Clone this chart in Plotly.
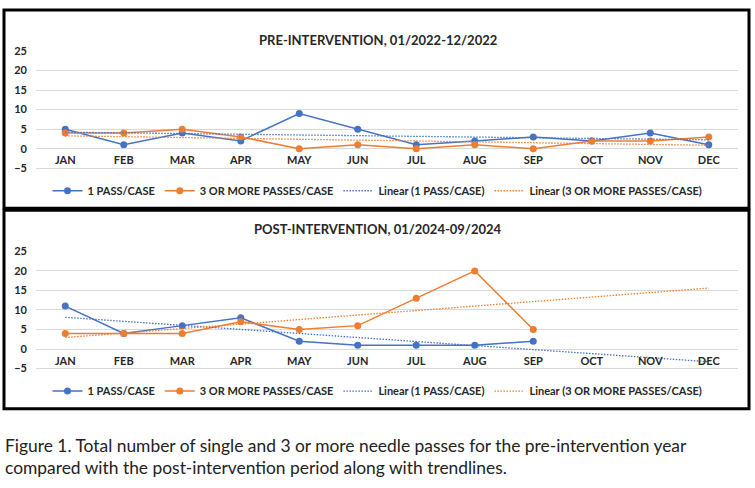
import numpy as np
import plotly.graph_objects as go

months = ["JAN", "FEB", "MAR", "APR", "MAY", "JUN", "JUL", "AUG", "SEP", "OCT", "NOV", "DEC"]
pre_one_pass = [5, 1, 4, 2, 9, 5, 1, 2, 3, 2, 4, 1]
pre_three_plus = [4, 4, 5, 3, 0, 1, 0, 1, 0, 2, 2, 3]
post_months = months[:9]
post_one_pass = [11, 4, 6, 8, 2, 1, 1, 1, 2]
post_three_plus = [4, 4, 4, 7, 5, 6, 13, 20, 5]
y_ticks = [-5, 0, 5, 10, 15, 20, 25]

title_pre = "PRE-INTERVENTION, 01/2022-12/2022"
title_post = "POST-INTERVENTION, 01/2024-09/2024"
caption_lines = ["Figure 1. Total number of single and 3 or more needle passes for the pre-intervention year",
                 "compared with the post-intervention period along with trendlines."]

BLUE = "#4472C4"
ORANGE = "#ED7D31"
FONT = "Lato"
TXT = "#262626"
W, H = 755, 488
YMIN, YMAX = -5.3, 25.2
PX_PER_UNIT = 4.0


def trend(vals, n_out):
    x = np.arange(1, len(vals) + 1)
    m, b = np.polyfit(x, vals, 1)
    xo = np.arange(1, n_out + 1)
    return list(m * xo + b)


fig = go.Figure()


def add_panel(xa, ya, leg, mlist, one, three):
    fig.add_trace(go.Scatter(x=mlist, y=one, mode="lines+markers", name="1 PASS/CASE",
                             line=dict(color=BLUE, width=1.5), marker=dict(size=7, color=BLUE),
                             xaxis=xa, yaxis=ya, legend=leg))
    fig.add_trace(go.Scatter(x=mlist, y=three, mode="lines+markers", name="3 OR MORE PASSES/CASE",
                             line=dict(color=ORANGE, width=1.5), marker=dict(size=7, color=ORANGE),
                             xaxis=xa, yaxis=ya, legend=leg))
    fig.add_trace(go.Scatter(x=months, y=trend(one, 12), mode="lines", name="Linear (1 PASS/CASE)",
                             line=dict(color=BLUE, width=1.3, dash="1.5px,1.5px"),
                             xaxis=xa, yaxis=ya, legend=leg))
    fig.add_trace(go.Scatter(x=months, y=trend(three, 12), mode="lines", name="Linear (3 OR MORE PASSES/CASE)",
                             line=dict(color=ORANGE, width=1.3, dash="1.5px,1.5px"),
                             xaxis=xa, yaxis=ya, legend=leg))


add_panel("x", "y", "legend", months, pre_one_pass, pre_three_plus)
add_panel("x2", "y2", "legend2", post_months, post_one_pass, post_three_plus)

tickfont = dict(family=FONT, size=11, color=TXT, weight="bold")
xcommon = dict(type="category", categoryorder="array", categoryarray=months,
               range=[-0.5, 11.5], showgrid=False, zeroline=False, showline=False,
               ticks="", ticklabelstandoff=-17, tickfont=tickfont, fixedrange=True)
ycommon = dict(range=[YMIN, YMAX], tickvals=y_ticks, showgrid=True, gridcolor="#D9D9D9",
               gridwidth=1, zeroline=False, showline=False, ticks="", tickfont=tickfont,
               ticklabelstandoff=8)


def ydomain(py_zero):
    top = py_zero - YMAX * PX_PER_UNIT
    bot = py_zero - YMIN * PX_PER_UNIT
    return [1 - bot / H, 1 - top / H]


x0, x1 = 36 / W, 738 / W
fig.update_layout(
    width=W, height=H, margin=dict(l=0, r=0, t=0, b=0),
    paper_bgcolor="white", plot_bgcolor="white",
    xaxis=dict(domain=[x0, x1], anchor="y", **xcommon),
    yaxis=dict(domain=ydomain(146), anchor="x", **ycommon),
    xaxis2=dict(domain=[x0, x1], anchor="y2", **xcommon),
    yaxis2=dict(domain=ydomain(351), anchor="x2", **ycommon),
    legend=dict(orientation="h", x=0.5, xanchor="center", y=1 - 189 / H, yanchor="middle",
                font=dict(family=FONT, size=11, color=TXT, weight="bold"),
                bgcolor="rgba(0,0,0,0)"),
    legend2=dict(orientation="h", x=0.5, xanchor="center", y=1 - 394 / H, yanchor="middle",
                 font=dict(family=FONT, size=11, color=TXT, weight="bold"),
                 bgcolor="rgba(0,0,0,0)"),
    showlegend=True,
)

fig.add_annotation(text=title_pre, xref="paper", yref="paper", x=0.5, y=1 - 25 / H,
                   showarrow=False, font=dict(family=FONT, size=13, color=TXT, weight="bold"))
fig.add_annotation(text=title_post, xref="paper", yref="paper", x=0.5, y=1 - 228 / H,
                   showarrow=False, font=dict(family=FONT, size=13, color=TXT, weight="bold"))
for line, py in zip(caption_lines, [450, 472]):
    fig.add_annotation(text=line, xref="paper", yref="paper", x=3 / W, y=1 - py / H,
                       xanchor="left", yanchor="middle", align="left", showarrow=False,
                       font=dict(family=FONT, size=17.4, color="#222222"))

# panel borders
fig.add_shape(type="rect", xref="paper", yref="paper", x0=4 / W, x1=749 / W,
              y0=1 - 207 / H, y1=1 - 4 / H, line=dict(color="black", width=3))
fig.add_shape(type="rect", xref="paper", yref="paper", x0=4 / W, x1=749 / W,
              y0=1 - 412 / H, y1=1 - 209 / H, line=dict(color="black", width=3))

fig.write_html("out.html")
